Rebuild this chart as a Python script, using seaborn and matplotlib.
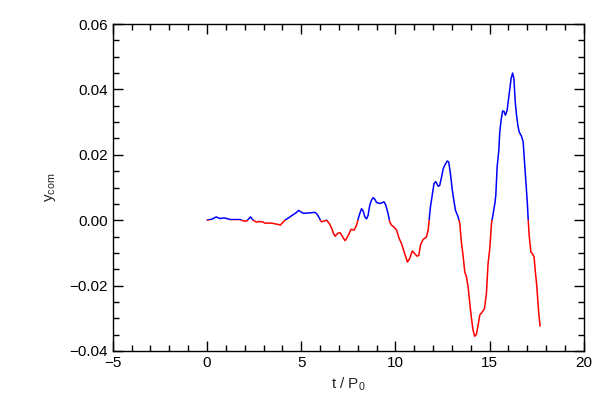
import numpy as np
import pandas as pd
import matplotlib
matplotlib.use("Agg")
import matplotlib.pyplot as plt
import seaborn as sns
from matplotlib.patches import Rectangle
from matplotlib.ticker import MultipleLocator, FuncFormatter

# values
t = [0.0, 0.25, 0.49, 0.69, 0.9, 1.13, 1.22, 1.75, 1.93, 2.1, 2.31, 2.45, 2.63,
     2.72, 2.95, 3.07, 3.43, 3.78, 3.9, 4.0, 4.14, 4.4, 4.58, 4.76, 4.86, 5.11,
     5.37, 5.73, 5.82, 5.96, 6.03, 6.08, 6.35, 6.49, 6.62, 6.71, 6.8, 6.94, 7.06,
     7.2, 7.32, 7.37, 7.55, 7.64, 7.81, 7.94, 8.03, 8.12, 8.2, 8.29, 8.38, 8.47,
     8.55, 8.64, 8.73, 8.82, 8.91, 9.0, 9.17, 9.31, 9.4, 9.49, 9.61, 9.7, 9.79,
     9.91, 10.06, 10.2, 10.32, 10.41, 10.5, 10.59, 10.64, 10.76, 10.9, 10.99,
     11.15, 11.24, 11.33, 11.47, 11.65, 11.74, 11.79, 11.86, 11.97, 12.05, 12.14,
     12.27, 12.35, 12.45, 12.54, 12.62, 12.75, 12.83, 12.92, 13.01, 13.1, 13.19,
     13.33, 13.42, 13.5, 13.6, 13.68, 13.77, 13.86, 13.95, 14.04, 14.12, 14.21,
     14.3, 14.39, 14.48, 14.62, 14.73, 14.83, 14.92, 15.01, 15.1, 15.19, 15.28,
     15.33, 15.4, 15.49, 15.54, 15.61, 15.69, 15.76, 15.84, 15.93, 16.0, 16.07,
     16.14, 16.22, 16.29, 16.36, 16.43, 16.5, 16.57, 16.69, 16.78, 16.86, 16.93,
     17.0, 17.05, 17.1, 17.19, 17.27, 17.36, 17.43, 17.5, 17.56, 17.61, 17.68]
y_com = [0.0, 0.0003, 0.001, 0.0005, 0.0007, 0.0004, 0.0002, 0.0002, -0.0002,
         -0.0003, 0.001, 0.0, -0.0006, -0.0004, -0.0005, -0.0009, -0.0009,
         -0.0013, -0.0015, -0.0008, 0.0, 0.001, 0.0017, 0.0024, 0.003, 0.0021,
         0.0022, 0.0024, 0.002, 0.0007, -0.0002, -0.0005, 0.0, -0.001, -0.0025,
         -0.004, -0.0049, -0.004, -0.0038, -0.0051, -0.0062, -0.006, -0.004,
         -0.0028, -0.003, -0.0015, 0.0005, 0.0022, 0.0035, 0.0028, 0.001, 0.0004,
         0.0015, 0.0046, 0.0061, 0.0069, 0.0064, 0.0054, 0.0051, 0.0054, 0.0056,
         0.0046, 0.002, -0.0005, -0.0015, -0.002, -0.003, -0.0056, -0.0071,
         -0.0087, -0.0102, -0.012, -0.0128, -0.0117, -0.0094, -0.01, -0.011,
         -0.0108, -0.0076, -0.0059, -0.0051, -0.003, 0.0, 0.0041, 0.0082, 0.0112,
         0.0118, 0.0104, 0.0106, 0.0132, 0.0158, 0.0168, 0.0181, 0.0178, 0.0143,
         0.0097, 0.0061, 0.003, 0.001, -0.001, -0.0066, -0.0112, -0.0158, -0.0173,
         -0.0204, -0.0255, -0.0301, -0.0336, -0.0355, -0.0349, -0.0321, -0.029,
         -0.028, -0.027, -0.0224, -0.0132, -0.0087, -0.001, 0.002, 0.0051, 0.0077,
         0.0163, 0.0214, 0.027, 0.0306, 0.0334, 0.0333, 0.0321, 0.0336, 0.0367,
         0.04, 0.0433, 0.045, 0.0433, 0.0362, 0.0321, 0.029, 0.027, 0.0257, 0.024,
         0.0173, 0.0112, 0.0056, 0.0, -0.0046, -0.0097, -0.0102, -0.0112, -0.0158,
         -0.0199, -0.0245, -0.0285, -0.0324]

df = pd.DataFrame({"t": t, "y": y_com})

sns.set_style("ticks")
plt.rcParams["font.family"] = ["Liberation Sans", "DejaVu Sans"]
plt.rcParams["mathtext.default"] = "regular"
plt.rcParams["axes.unicode_minus"] = True

fig = plt.figure(figsize=(6, 4), dpi=100)
ax = fig.add_axes([0.188, 0.1225, 0.785, 0.8175])

# same curve twice: blue above zero, red below zero
for colour, lo, hi in [("blue", 0.0, 1.0), ("red", -1.0, 0.0)]:
    n_before = len(ax.lines)
    sns.lineplot(data=df, x="t", y="y", color=colour, linewidth=1.1,
                 estimator=None, sort=False, ax=ax)
    clip = Rectangle((-100, lo), 200, hi - lo, transform=ax.transData)
    for ln in ax.lines[n_before:]:
        ln.set_clip_path(clip)

ax.set_xlim(-5, 20)
ax.set_ylim(-0.04, 0.06)
ax.xaxis.set_major_locator(MultipleLocator(5))
ax.xaxis.set_minor_locator(MultipleLocator(1))
ax.yaxis.set_major_locator(MultipleLocator(0.02))
ax.yaxis.set_minor_locator(MultipleLocator(0.005))
ax.xaxis.set_major_formatter(FuncFormatter(lambda v, p: f"{v:.0f}".replace("-", "\u2212")))
ax.yaxis.set_major_formatter(FuncFormatter(lambda v, p: f"{v:.2f}".replace("-", "\u2212")))
ax.tick_params(which="both", direction="in", top=True, right=True,
               colors="black", labelsize=11)
ax.tick_params(which="major", length=7, width=1)
ax.tick_params(which="minor", length=4, width=1)
for sp in ax.spines.values():
    sp.set_visible(True)
    sp.set_color("black")
    sp.set_linewidth(1)

ax.set_xlabel("t / P$_0$", fontsize=11)
ax.set_ylabel("y$_{com}$", fontsize=11, labelpad=8)

fig.savefig("out.png", dpi=100)
